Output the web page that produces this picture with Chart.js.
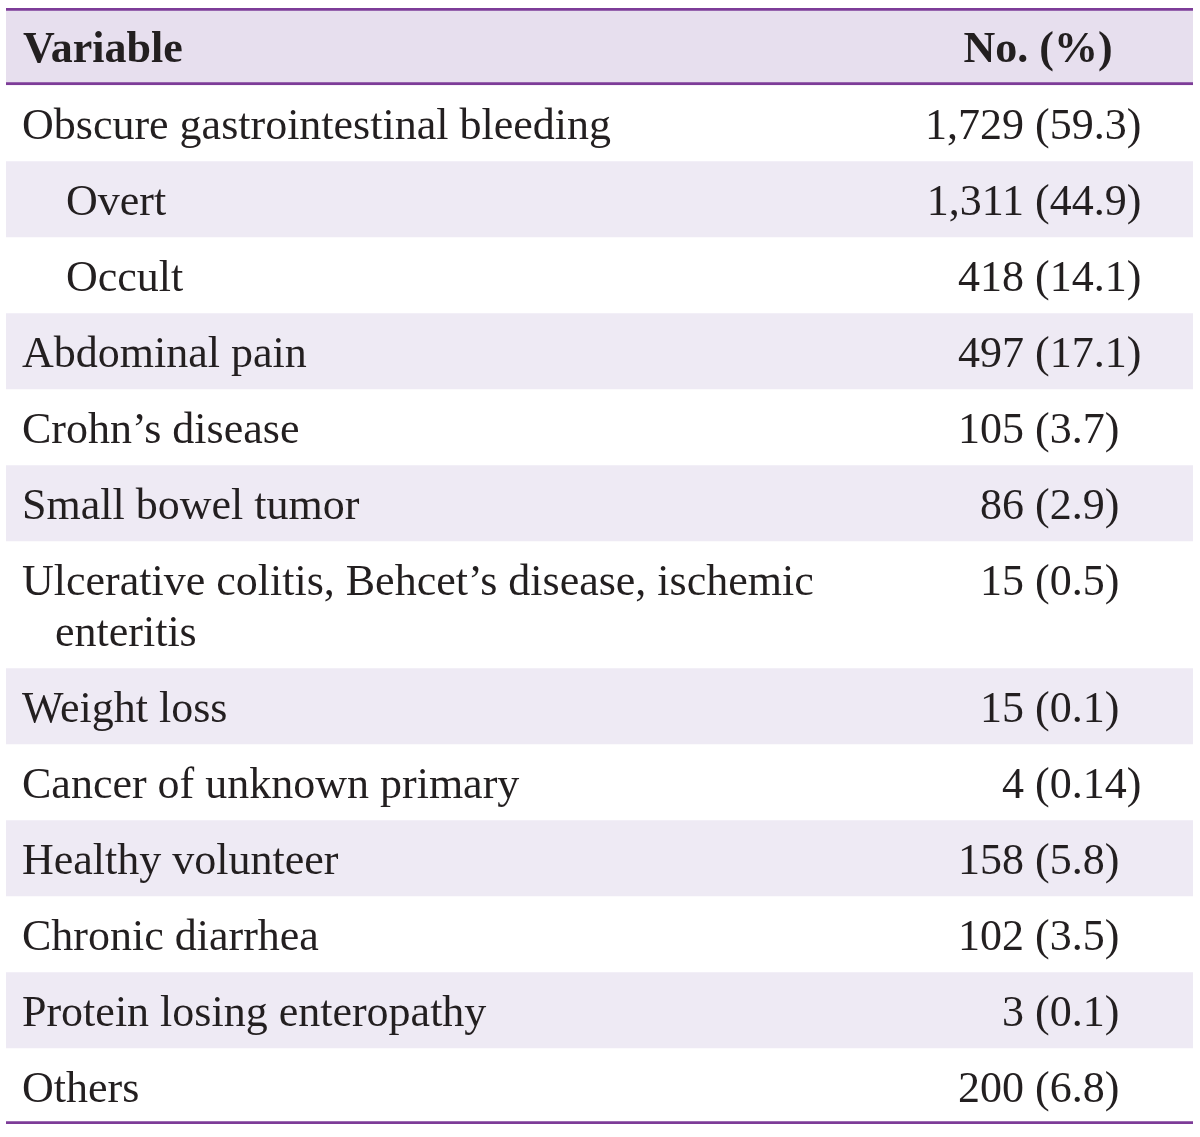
<!DOCTYPE html>
<html>
<head>
<meta charset="utf-8">
<script src="https://cdn.jsdelivr.net/npm/chart.js@4/dist/chart.umd.min.js"></script>
<style>
  html, body { margin: 0; padding: 0; background: #ffffff; }
  #wrap { width: 1200px; height: 1137px; position: relative; }
</style>
</head>
<body>
<div id="wrap"><canvas id="c"></canvas></div>
<script>
// ---- data ----
const headerLabels = ['Variable', 'No. (%)'];
const variables = [
  'Obscure gastrointestinal bleeding',
  'Overt',
  'Occult',
  'Abdominal pain',
  'Crohn\u2019s disease',
  'Small bowel tumor',
  'Ulcerative colitis, Behcet\u2019s disease, ischemic enteritis',
  'Weight loss',
  'Cancer of unknown primary',
  'Healthy volunteer',
  'Chronic diarrhea',
  'Protein losing enteropathy',
  'Others'
];
const counts = [1729, 1311, 418, 497, 105, 86, 15, 15, 4, 158, 102, 3, 200];
const percents = [59.3, 44.9, 14.1, 17.1, 3.7, 2.9, 0.5, 0.1, 0.14, 5.8, 3.5, 0.1, 6.8];
const subLevel = [0, 1, 1, 0, 0, 0, 0, 0, 0, 0, 0, 0, 0];

// ---- styles / layout ----
const FONT_FAMILY = '"Liberation Serif", "Times New Roman", serif';
const FONT_SIZE = 44;
const TEXT_COLOR = '#231f20';
const HEADER_BG = '#e7dfee';
const SHADE_BG = '#eeeaf4';
const RULE = '#7d3c98';
const WRAP_WIDTH = 830;
const LINE_STEP = 51;
const ROW_PAD = 25;

// wrap labels using the text metrics
const mctx = document.createElement('canvas').getContext('2d');
mctx.font = FONT_SIZE + 'px ' + FONT_FAMILY;
function wrap(text) {
  const words = text.split(' ');
  const lines = [];
  let cur = '';
  for (const w of words) {
    const t = cur ? cur + ' ' + w : w;
    if (cur && mctx.measureText(t).width > WRAP_WIDTH) { lines.push(cur); cur = w; }
    else cur = t;
  }
  lines.push(cur);
  return lines;
}
const wrapped = variables.map(wrap);
const rowSpans = [ROW_PAD + 52].concat(wrapped.map(l => ROW_PAD + LINE_STEP * l.length));
const total = rowSpans.reduce((a, b) => a + b, 0);

const datasets = rowSpans.map((h, i) => {
  const isHeader = i === 0;
  const isLast = i === rowSpans.length - 1;
  return {
    data: [h],
    backgroundColor: isHeader ? HEADER_BG : (i % 2 === 0 ? SHADE_BG : '#ffffff'),
    borderColor: RULE,
    borderWidth: isHeader ? { top: 3, bottom: 3, left: 0, right: 0 }
               : isLast ? { top: 0, bottom: 3, left: 0, right: 0 } : 0,
    borderSkipped: false,
    barPercentage: 1,
    categoryPercentage: 1
  };
});

const tableText = {
  id: 'tableText',
  afterDatasetsDraw(chart) {
    const ctx = chart.ctx;
    const L = chart.chartArea.left;
    const countX = L + 1018;
    const headCenterX = L + 1032;
    ctx.save();
    ctx.fillStyle = TEXT_COLOR;
    ctx.textBaseline = 'alphabetic';
    chart.data.datasets.forEach((ds, i) => {
      const el = chart.getDatasetMeta(i).data[0];
      const top = Math.min(el.y, el.base);
      const base = top + 54;
      if (i === 0) {
        ctx.font = 'bold ' + FONT_SIZE + 'px ' + FONT_FAMILY;
        ctx.textAlign = 'left';
        ctx.fillText(headerLabels[0], L + 17, base);
        ctx.textAlign = 'center';
        ctx.fillText(headerLabels[1], headCenterX, base);
        return;
      }
      const r = i - 1;
      ctx.font = FONT_SIZE + 'px ' + FONT_FAMILY;
      ctx.textAlign = 'left';
      wrapped[r].forEach((line, k) => {
        const x = subLevel[r] ? L + 60 : (k === 0 ? L + 16 : L + 49);
        ctx.fillText(line, x, base + k * LINE_STEP);
      });
      const c = counts[r].toLocaleString('en-US');
      ctx.textAlign = 'right';
      ctx.fillText(c, countX, base);
      ctx.textAlign = 'left';
      ctx.fillText(' (' + String(percents[r]) + ')', countX, base);
    });
    ctx.restore();
  }
};

new Chart(document.getElementById('c'), {
  type: 'bar',
  data: { labels: [''], datasets },
  options: {
    responsive: true,
    maintainAspectRatio: false,
    animation: false,
    layout: { padding: { top: 8, left: 6, right: 7, bottom: 13 } },
    plugins: { legend: { display: false }, tooltip: { enabled: false } },
    scales: {
      x: { display: false, stacked: true },
      y: { display: false, stacked: true, reverse: true, min: 0, max: total }
    }
  },
  plugins: [tableText]
});
</script>
</body>
</html>
